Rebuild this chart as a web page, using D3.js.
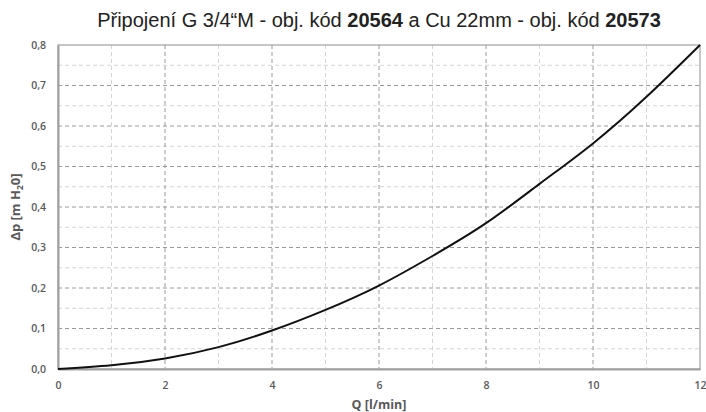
<!DOCTYPE html>
<head>
<meta charset="utf-8">
<script src="https://d3js.org/d3.v7.min.js"></script>
</head>
<body style="margin:0;background:#fff">
<style>
.title { font-family: "Liberation Sans", Arial, sans-serif; font-size: 20px; fill: #222; }
.tick text { font-family: "Open Sans", sans-serif; font-weight: 600; font-size: 10.5px; fill: #595959; }
.axis-label { font-family: "Open Sans", sans-serif; font-weight: 700; font-size: 12.5px; fill: #595959; }
</style>
<svg width="706" height="412"></svg>
<script>

// flow Q [l/min] vs pressure drop [m H2O]
var flow = [0, 1, 2, 3, 4, 5, 6, 7, 8, 9, 10, 11, 12];
var dp   = [0, 0.009, 0.026, 0.054, 0.095, 0.146, 0.206, 0.279, 0.36, 0.457, 0.557, 0.672, 0.8];

var xMajor = [0, 2, 4, 6, 8, 10, 12];
var xMinor = [1, 3, 5, 7, 9, 11];
var yMajor = [0, 0.1, 0.2, 0.3, 0.4, 0.5, 0.6, 0.7, 0.8];
var yMinor = [0.05, 0.15, 0.25, 0.35, 0.45, 0.55, 0.65, 0.75];

var svg = d3.select("svg"),
    margin = {top: 45, right: 6, bottom: 43, left: 58},
    width = 706 - margin.left - margin.right,
    height = 412 - margin.top - margin.bottom;

var x = d3.scaleLinear().domain([0, 12]).range([0, width]);
var y = d3.scaleLinear().domain([0, 0.8]).range([height, 0]);

var fmt = function(d) { return d3.format(".1f")(d).replace(".", ","); };

svg.append("text")
    .attr("class", "title")
    .attr("x", margin.left + width / 2)
    .attr("y", 27)
    .attr("text-anchor", "middle")
    .call(function(t) {
      t.append("tspan").text("Připojení G 3/4“M - obj. kód ");
      t.append("tspan").attr("font-weight", "bold").text("20564");
      t.append("tspan").text(" a Cu 22mm - obj. kód ");
      t.append("tspan").attr("font-weight", "bold").text("20573");
    });

var g = svg.append("g").attr("transform", "translate(" + margin.left + "," + margin.top + ")");

// minor grid
g.selectAll(".vminor").data(xMinor).enter().append("line")
    .attr("x1", x).attr("x2", x).attr("y1", 0).attr("y2", height)
    .attr("stroke", "#d4d4d4").attr("stroke-dasharray", "4,3");
g.selectAll(".hminor").data(yMinor).enter().append("line")
    .attr("y1", y).attr("y2", y).attr("x1", 0).attr("x2", width)
    .attr("stroke", "#d4d4d4").attr("stroke-dasharray", "4,3");

// major grid
g.selectAll(".vmajor").data(xMajor.slice(1, -1)).enter().append("line")
    .attr("x1", x).attr("x2", x).attr("y1", 0).attr("y2", height)
    .attr("stroke", "#9a9a9a").attr("stroke-dasharray", "4,3");
g.selectAll(".hmajor").data(yMajor.slice(1, -1)).enter().append("line")
    .attr("y1", y).attr("y2", y).attr("x1", 0).attr("x2", width)
    .attr("stroke", "#9a9a9a").attr("stroke-dasharray", "4,3");

// frame
g.append("rect")
    .attr("width", width).attr("height", height)
    .attr("fill", "none").attr("stroke", "#a0a0a0").attr("stroke-width", 1.2);

g.append("g")
    .attr("transform", "translate(0," + height + ")")
    .call(d3.axisBottom(x).tickValues(xMajor).tickFormat(d3.format("d")).tickSize(0).tickPadding(13))
    .call(function(a) { a.select(".domain").attr("stroke", "#a0a0a0").attr("stroke-width", 2); });

g.append("g")
    .call(d3.axisLeft(y).tickValues(yMajor).tickFormat(fmt).tickSize(0).tickPadding(12))
    .call(function(a) { a.select(".domain").attr("stroke", "#a0a0a0").attr("stroke-width", 2); });

var line = d3.line()
    .x(function(d, i) { return x(flow[i]); })
    .y(function(d) { return y(d); })
    .curve(d3.curveNatural);

g.append("path")
    .datum(dp)
    .attr("fill", "none")
    .attr("stroke", "#111")
    .attr("stroke-width", 2)
    .attr("d", line);

svg.append("text")
    .attr("class", "axis-label")
    .attr("x", margin.left + width / 2)
    .attr("y", 409)
    .attr("text-anchor", "middle")
    .text("Q [l/min]");

svg.append("text")
    .attr("class", "axis-label")
    .attr("transform", "translate(20," + (margin.top + height / 2) + ") rotate(-90)")
    .attr("text-anchor", "middle")
    .attr("font-size", "13px")
    .style("font-size", "13px")
    .call(function(t) {
      t.append("tspan").text("Δp [m H");
      t.append("tspan").style("font-size", "8.5px").attr("dy", 3).text("2");
      t.append("tspan").attr("dy", -3).text("0]");
    });

</script>
</body>
